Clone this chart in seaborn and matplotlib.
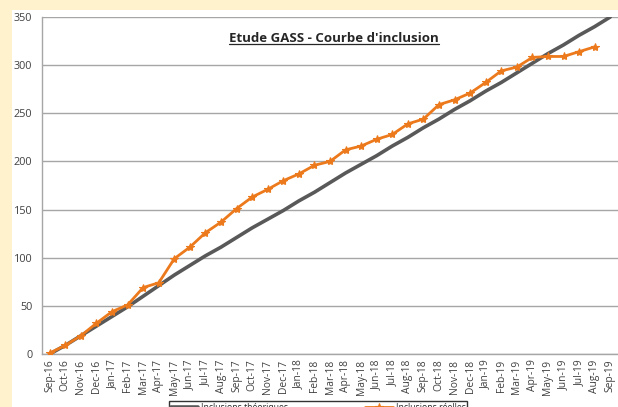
import matplotlib
matplotlib.use("Agg")
import matplotlib.pyplot as plt
import seaborn as sns
import pandas as pd
import numpy as np
from matplotlib.patches import Rectangle
from matplotlib.lines import Line2D

months = ["Sep-16", "Oct-16", "Nov-16", "Dec-16", "Jan-17", "Feb-17", "Mar-17", "Apr-17",
          "May-17", "Jun-17", "Jul-17", "Aug-17", "Sep-17", "Oct-17", "Nov-17", "Dec-17",
          "Jan-18", "Feb-18", "Mar-18", "Apr-18", "May-18", "Jun-18", "Jul-18", "Aug-18",
          "Sep-18", "Oct-18", "Nov-18", "Dec-18", "Jan-19", "Feb-19", "Mar-19", "Apr-19",
          "May-19", "Jun-19", "Jul-19", "Aug-19", "Sep-19"]
theoretical = [0, 9, 19, 29, 39, 49, 60, 71, 82, 92, 102, 111, 121, 131, 140, 149, 159, 168,
               178, 188, 197, 206, 216, 225, 235, 244, 254, 263, 273, 282, 292, 302, 312,
               321, 331, 340, 350]
real = [1, 9, 19, 32, 44, 51, 69, 74, 99, 111, 126, 137, 151, 163, 171, 180, 187, 196, 200,
        212, 216, 223, 228, 239, 244, 259, 264, 271, 282, 294, 298, 308, 309, 309, 314, 319]

sns.set_style("white")
plt.rcParams['font.family'] = ['Open Sans', 'DejaVu Sans']

W, H = 618, 407
fig = plt.figure(figsize=(W / 100, H / 100), dpi=100)
fig.patch.set_facecolor("#FFF2CC")
fig.add_artist(Rectangle((12 / W, 0), 1 - 12 / W, 1 - 10 / H, transform=fig.transFigure,
                         facecolor="white", edgecolor="none", zorder=-5))

ax = fig.add_axes([42 / W, 1 - 354 / H, (618 - 42) / W, (354 - 17) / H])
ax.set_facecolor("white")
ax.set_zorder(1)

df_t = pd.DataFrame({"x": np.arange(len(months)), "y": theoretical})
df_r = pd.DataFrame({"x": np.arange(len(real)), "y": real})

sns.lineplot(data=df_t, x="x", y="y", ax=ax, color="#595959", linewidth=2.6,
             label="Inclusions théoriques", zorder=3)
sns.lineplot(data=df_r, x="x", y="y", ax=ax, color="#EC7A1C", linewidth=2.0,
             marker="*", markersize=6, markeredgewidth=0.8, markeredgecolor="#EC7A1C",
             label="Inclusions réelles", zorder=4)

ax.set_xlim(-0.5, len(months) - 0.5)
ax.set_ylim(0, 350)
ax.set_yticks(range(0, 351, 50))
ax.yaxis.grid(True, color="#A6A6A6", linewidth=1.0)
ax.set_axisbelow(True)
ax.set_xticks(range(len(months)))
ax.set_xticklabels(months, rotation=90, fontsize=7.4, color="#404040")
ax.set_xticks(np.arange(-0.5, len(months), 1), minor=True)
ax.tick_params(axis="x", which="major", length=0, pad=4)
ax.tick_params(axis="x", which="minor", length=4, color="#A6A6A6", direction="out")
ax.tick_params(axis="y", which="major", length=4, color="#A6A6A6", direction="out",
               labelsize=7.8, labelcolor="#404040", pad=3)
ax.set_xlabel("")
ax.set_ylabel("")
for s in ["top", "right"]:
    ax.spines[s].set_visible(False)
for s in ["left", "bottom"]:
    ax.spines[s].set_color("#A6A6A6")
    ax.spines[s].set_linewidth(1.0)

ax.legend(loc="upper left", bbox_to_anchor=(165 / W, 1 - 397 / H), bbox_transform=fig.transFigure,
          ncol=2, fontsize=6.2, frameon=True, fancybox=False, edgecolor="black",
          borderpad=0.15, columnspacing=9, handlelength=3.2, handletextpad=0.3)

title = fig.text(334 / W, 1 - 38 / H, "Etude GASS - Courbe d'inclusion", ha="center", va="center",
                 fontsize=9.5, fontweight="bold", color="#262626")
fig.canvas.draw()
bb = title.get_window_extent().transformed(fig.transFigure.inverted())
fig.add_artist(Line2D([bb.x0, bb.x1], [bb.y0 + 0.002, bb.y0 + 0.002], transform=fig.transFigure,
                      color="#262626", linewidth=0.9))

fig.savefig("out.png", dpi=100, facecolor=fig.get_facecolor())
